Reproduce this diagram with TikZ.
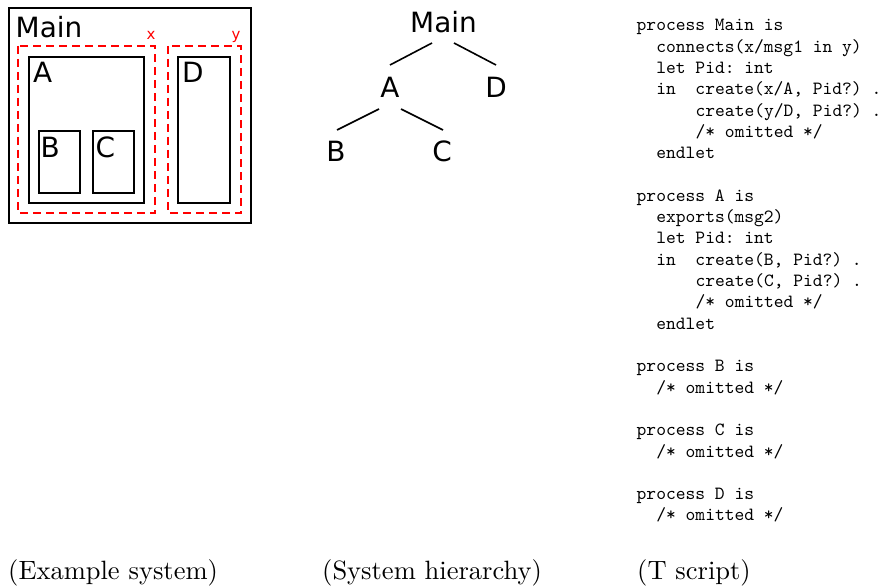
\documentclass[tikz,border=0pt]{standalone}
\usepackage{fontspec}
\setsansfont{DejaVu Sans}
\newfontfamily\capfont{lmroman10-regular}[Extension=.otf]
\newfontfamily\codefont{lmmono10-regular}[Extension=.otf]
\usetikzlibrary{calc}
\begin{document}
\begin{tikzpicture}[x=1bp,y=-1bp,
  box/.style={draw=black, line width=1.6bp},
  xbox/.style={draw=red, line width=1.6bp, dash pattern=on 8bp off 5bp},
  lbl/.style={font=\sffamily\fontsize{28}{30}\selectfont, inner sep=0pt, anchor=base},
  lblw/.style={font=\sffamily\fontsize{28}{30}\selectfont, inner sep=0pt, anchor=base west},
  rlbl/.style={font=\sffamily\fontsize{15}{16}\selectfont, text=red, inner sep=0pt, anchor=base},
  code/.style={font=\codefont\frenchspacing\fontsize{18.7}{21}\selectfont, inner sep=0pt, anchor=base west},
  captext/.style={font=\capfont\fontsize{26.6}{29}\selectfont, inner sep=0pt, anchor=base west},
  treeedge/.style={line width=1.6bp}
]
\useasboundingbox (0,0) rectangle (880,587);

% ---------- Example system ----------
\draw[box] (9,8) rectangle (251,223);
\node[lblw] (mainlbl) at (15.5,38) {Main};
\draw[xbox] (18,46) rectangle (155,213);
\draw[xbox] (168,46) rectangle (241,213);
\node[rlbl] (xlbl) at (151,40) {x};
\node[rlbl] (ylbl) at (236,40) {y};
\draw[box] (29,57) rectangle (144,203);
\node[lblw] (albl) at (33,83) {A};
\draw[box] (39,131) rectangle (80,193);
\node[lblw] (blbl) at (40.5,158) {B};
\draw[box] (93,131) rectangle (134,193);
\node[lblw] (clbl) at (95.5,158) {C};
\draw[box] (178,57) rectangle (230,203);
\node[lblw] (dlbl) at (182,83) {D};

% ---------- System hierarchy ----------
\node[lbl] (tMain) at (443.5,33) {Main};
\node[lbl] (tA) at (390,98) {A};
\node[lbl] (tD) at (496,98) {D};
\node[lbl] (tB) at (336,162) {B};
\node[lbl] (tC) at (442,162) {C};
\draw[treeedge] ($(tMain.base)+(-11.5,10)$) -- ($(tA.base)+(0,-33)$);
\draw[treeedge] ($(tMain.base)+(10.5,10)$) -- ($(tD.base)+(0,-33)$);
\draw[treeedge] ($(tA.base)+(-11,11)$) -- ($(tB.base)+(1,-32)$);
\draw[treeedge] ($(tA.base)+(11,11)$) -- ($(tC.base)+(1,-32)$);

% ---------- T script ----------
\def\xa{636.5}
\def\xb{656.14}
\def\xc{695.42}
\node[code] (c0) at (\xa,31) {process Main is};
\node[code] (c1) at (\xb,52.3) {connects(x/msg1 in y)};
\node[code] (c2) at (\xb,73.6) {let Pid: int};
\node[code] (c3) at (\xb,94.9) {in\ \ create(x/A, Pid?) .};
\node[code] (c4) at (\xc,116.2) {create(y/D, Pid?) .};
\node[code] (c5) at (\xc,137.5) {/* omitted */};
\node[code] (c6) at (\xb,158.8) {endlet};
\node[code] (c8) at (\xa,201.4) {process A is};
\node[code] (c9) at (\xb,222.7) {exports(msg2)};
\node[code] (c10) at (\xb,244.0) {let Pid: int};
\node[code] (c11) at (\xb,265.3) {in\ \ create(B, Pid?) .};
\node[code] (c12) at (\xc,286.6) {create(C, Pid?) .};
\node[code] (c13) at (\xc,307.9) {/* omitted */};
\node[code] (c14) at (\xb,329.2) {endlet};
\node[code] (c16) at (\xa,371.8) {process B is};
\node[code] (c17) at (\xb,393.1) {/* omitted */};
\node[code] (c19) at (\xa,435.7) {process C is};
\node[code] (c20) at (\xb,457.0) {/* omitted */};
\node[code] (c22) at (\xa,499.6) {process D is};
\node[code] (c23) at (\xb,520.9) {/* omitted */};

% ---------- captions ----------
\node[captext] (cap1) at (8,579.5) {(Example system)};
\node[captext] (cap2) at (322,579.5) {(System hierarchy)};
\node[captext] (cap3) at (637,579.5) {(T script)};
\end{tikzpicture}
\end{document}
